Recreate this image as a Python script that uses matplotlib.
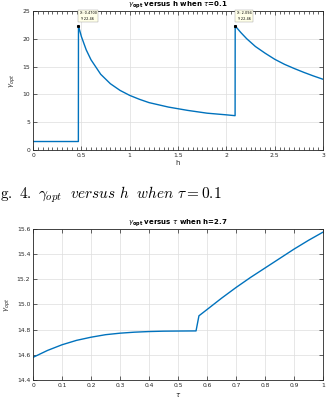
import matplotlib
matplotlib.use("Agg")
import matplotlib.pyplot as plt
from matplotlib.ticker import MultipleLocator

# gamma_opt versus h (tau = 0.1)
h_vals = [0.0, 0.469, 0.47, 0.50, 0.55, 0.60, 0.70, 0.80, 0.90, 1.00, 1.10, 1.20,
          1.40, 1.60, 1.80, 2.00, 2.09,
          2.091, 2.15, 2.21, 2.30, 2.40, 2.50, 2.60, 2.70, 2.80, 2.90, 3.00]
g_h = [1.5, 1.5, 22.3, 20.4, 18.0, 16.2, 13.6, 11.9, 10.7, 9.8, 9.1, 8.5,
       7.7, 7.1, 6.6, 6.3, 6.15,
       22.3, 21.1, 20.0, 18.6, 17.4, 16.3, 15.4, 14.65, 13.95, 13.3, 12.7]
tips = [(0.47, 22.3, "X: 0.4700\nY: 22.46"), (2.091, 22.3, "X: 2.094\nY: 22.46")]

# gamma_opt versus tau (h = 2.7)
tau_vals = [0.0, 0.05, 0.10, 0.15, 0.20, 0.25, 0.30, 0.35, 0.40, 0.45, 0.50, 0.562,
            0.572, 0.60, 0.65, 0.70, 0.75, 0.80, 0.85, 0.90, 0.95, 1.00]
g_tau = [14.58, 14.635, 14.68, 14.715, 14.74, 14.76, 14.772, 14.78, 14.785, 14.788,
         14.789, 14.79, 14.91, 14.96, 15.05, 15.135, 15.215, 15.29, 15.365, 15.44, 15.51, 15.575]

plt.rcParams['mathtext.fontset'] = 'dejavusans'
blue = '#0072BD'
dark = '#262626'

fig = plt.figure(figsize=(3.27, 4.05), dpi=100)


def style(ax):
    for s in ax.spines.values():
        s.set_color(dark)
        s.set_linewidth(0.6)
    ax.tick_params(which='both', direction='in', top=True, right=True,
                   labelsize=4.3, colors=dark, width=0.5, pad=2)
    ax.tick_params(which='major', length=3)
    ax.tick_params(which='minor', length=2.2)
    ax.grid(True, which='major', color='#dddddd', linewidth=0.5)
    ax.set_axisbelow(True)


ax1 = fig.add_axes([0.101, 0.630, 0.887, 0.343])
ax1.plot(h_vals, g_h, color=blue, lw=1.0)
ax1.set_xlim(0, 3)
ax1.set_ylim(0, 25)
ax1.set_xticks([0, 0.5, 1, 1.5, 2, 2.5, 3])
ax1.set_xticklabels(['0', '0.5', '1', '1.5', '2', '2.5', '3'])
ax1.xaxis.set_minor_locator(MultipleLocator(0.05))
ax1.yaxis.set_major_locator(MultipleLocator(5))
style(ax1)
ax1.set_xlabel('h', fontsize=5, color=dark, labelpad=2)
ax1.set_ylabel(r'$\gamma_{opt}$', fontsize=5, color=dark, labelpad=3)
ax1.set_title(r'$\gamma_{\mathbf{opt}}$ versus h when $\tau$=0.1', fontsize=5,
              fontweight='bold', pad=1.5)
for tx, ty, lab in tips:
    ax1.plot([tx], [ty], 's', color='k', ms=1.2)
    ax1.annotate(lab, (tx, ty), xytext=(1, 3.5), textcoords='offset points',
                 fontsize=2.5, va='bottom', ha='left', linespacing=1.6,
                 bbox=dict(boxstyle='square,pad=0.4', fc='#ffffe8', ec='#999999', lw=0.3))

fig.text(0.0, 0.519, r'$\mathrm{g.\ 4.}\ \gamma_{opt}\ \ versus\ h\ \ when\ \tau = 0.1$',
         fontsize=11, ha='left', va='center', math_fontfamily='cm')

ax2 = fig.add_axes([0.101, 0.0617, 0.887, 0.373])
ax2.plot(tau_vals, g_tau, color=blue, lw=1.0)
ax2.set_xlim(0, 1)
ax2.set_ylim(14.4, 15.6)
ax2.set_xticks([0, 0.1, 0.2, 0.3, 0.4, 0.5, 0.6, 0.7, 0.8, 0.9, 1])
ax2.set_xticklabels(['0', '0.1', '0.2', '0.3', '0.4', '0.5', '0.6', '0.7', '0.8', '0.9', '1'])
ax2.yaxis.set_major_locator(MultipleLocator(0.2))
style(ax2)
ax2.set_xlabel(r'$\tau$', fontsize=5, color=dark, labelpad=2)
ax2.set_ylabel(r'$\gamma_{opt}$', fontsize=5, color=dark, labelpad=3)
ax2.set_title(r'$\gamma_{\mathbf{opt}}$ versus $\tau$ when h=2.7', fontsize=5,
              fontweight='bold', pad=1.5)

fig.savefig('out.png', dpi=100)
